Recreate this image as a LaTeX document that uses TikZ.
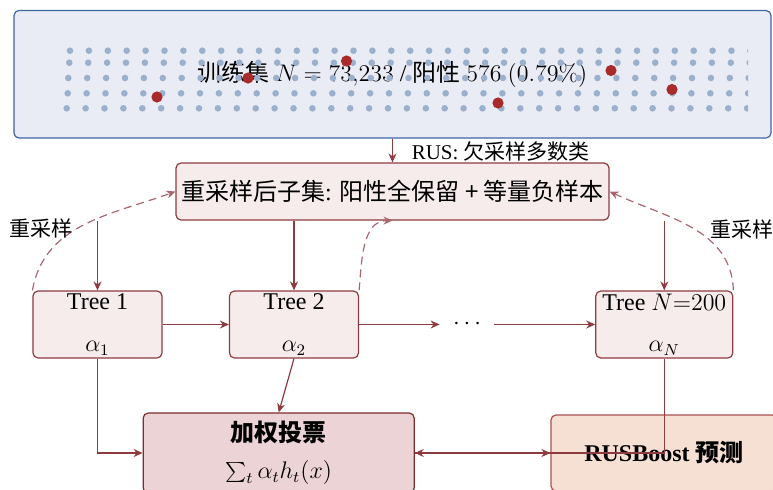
\documentclass[tikz,border=0pt]{standalone}
\usepackage[no-math]{fontspec}
\setmainfont{Liberation Serif}
\newfontfamily\cjk{Noto Sans CJK SC}
\usetikzlibrary{arrows.meta}
\definecolor{databg}{HTML}{E9ECF4}
\definecolor{databorder}{HTML}{3E66A3}
\definecolor{dotblue}{HTML}{9BB0CC}
\definecolor{dotred}{HTML}{A82A2A}
\definecolor{boxfill}{HTML}{F7ECEC}
\definecolor{boxdraw}{HTML}{8E3B3F}
\definecolor{arrowc}{HTML}{8E3B3F}
\definecolor{dashc}{HTML}{A8666E}
\definecolor{votefill}{HTML}{ECD4D6}
\definecolor{votedraw}{HTML}{7E2B2E}
\definecolor{rusfill}{HTML}{F6E0D3}
\definecolor{rusdraw}{HTML}{A85150}
\begin{document}
\begin{tikzpicture}[x=0.5pt,y=-0.5pt,
  every node/.style={font=\fontsize{12}{14.4}\selectfont},
  box/.style={draw=boxdraw, fill=boxfill, rounded corners=2.5pt, line width=0.6pt, align=center, inner sep=0pt},
  arr/.style={draw=arrowc, line width=0.6pt, -{Stealth[length=4.5pt,width=4pt]}},
  dsh/.style={draw=dashc, line width=0.6pt, dash pattern=on 4pt off 2.5pt, -{Stealth[length=4.5pt,width=4pt]}},
  lbl/.style={font=\fontsize{10.5}{12}\selectfont},
  bluedot/.style={fill=dotblue},
  reddot/.style={fill=dotred}]
\useasboundingbox (0,0) rectangle (773,489);

% data box
\node[draw=databorder, fill=databg, rounded corners=2.5pt, line width=0.6pt,
      minimum width=378.5pt, minimum height=63.75pt, inner sep=0pt] (data) at (392.5,74.25) {};
\node[inner sep=0pt] (title) at (392.5,74) {{\cjk 训练集} $N = 73{,}233$ / {\cjk 阳性} $576\ (0.79\%)$};
\begin{scope}
  \clip (55,40) rectangle (748,120);
  \foreach \yy/\xx in {50.7/70, 62.7/69.3, 78/68.3, 93.3/67.7, 108.3/66.7}{
    \foreach \i in {0,...,36}{
      \fill[bluedot] (\xx+18.9*\i,\yy) circle[radius=1.65pt];
    }
  }
\end{scope}
\foreach \p in {(157,97),(248,78),(346.5,61),(498,103),(611,70.5),(672,89.5)}{
  \fill[reddot] \p circle[radius=2.8pt];
}

% subset box
\node[box, minimum width=216.5pt, minimum height=28.5pt, font=\fontsize{12}{14.4}\selectfont] (subset) at (392.5,191.5)
  {{\cjk 重采样后子集}: {\cjk 阳性全保留 + 等量负样本}};
\draw[arr] (data.south) -- (subset.north) node[lbl, pos=0.55, anchor=west, xshift=6pt] (ruslbl) {RUS: {\cjk 欠采样多数类}};

% trees
\node[box, minimum width=64.5pt, minimum height=33.5pt] (tree1) at (97.5,324.5) {Tree 1\\[6.5pt]$\alpha_1$};
\node[box, minimum width=64.5pt, minimum height=33.5pt] (tree2) at (294,324.5) {Tree 2\\[6.5pt]$\alpha_2$};
\node[box, minimum width=68.5pt, minimum height=33.5pt] (treeN) at (664.3,324.5) {Tree $N{=}200$\\[6.5pt]$\alpha_N$};
\node[minimum width=27pt, inner sep=0pt] (dots) at (467,324.5) {$\cdots$};

\draw[arr] (tree1 |- subset.south) -- (tree1);
\draw[arr] (subset.south -| tree2) -- (tree2);
\draw[arr] (subset.south -| treeN) -- (treeN);
\draw[arr] (tree1) -- (tree2);
\draw[arr] (tree2) -- (dots);
\draw[arr] (dots) -- (treeN);

% resampling dashed
\draw[dsh] (tree1.north west) to[out=80, in=200] (subset.west);
\draw[dsh] (tree2.north east) to[out=85, in=180] (subset.south);
\draw[dsh] (treeN.north east) to[out=92, in=-25] (subset.east);
\node[lbl] (rs1) at (41,228) {\cjk 重采样};
\node[lbl] (rs2) at (741.5,229) {\cjk 重采样};

% vote and prediction
\node[box, draw=votedraw, fill=votefill, minimum width=135.5pt, minimum height=40pt] (vote) at (278.7,453)
  {{\cjk\bfseries 加权投票}\\[4pt]$\sum_t \alpha_t h_t(x)$};
\node[box, draw=rusdraw, fill=rusfill, minimum width=113pt, minimum height=38pt] (rus) at (664,453)
  {\textbf{RUSBoost {\cjk 预测}}};

\draw[arr] (tree1) |- (vote);
\draw[arr] (tree2.south) -- (vote.north);
\draw[arr] (treeN) |- (vote);
\draw[arr] (vote) -- (rus);
\end{tikzpicture}
\end{document}
